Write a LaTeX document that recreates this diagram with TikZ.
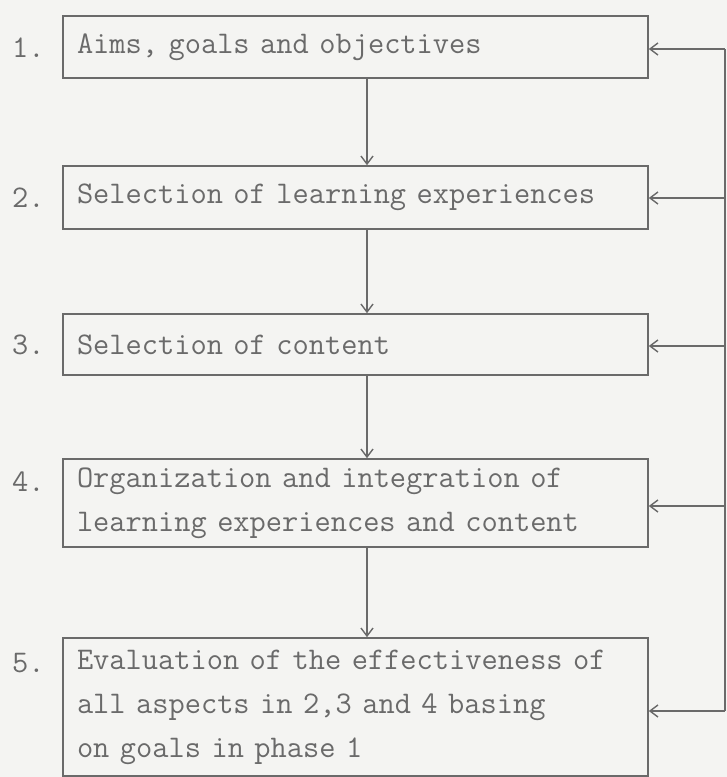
\documentclass[tikz,border=0pt]{standalone}
\usepackage{tikz}
\usetikzlibrary{arrows.meta}
\usetikzlibrary{calc}
\tikzset{>={Straight Barb[length=8pt,width=12pt]}}
\definecolor{ink}{HTML}{6A6A6A}
\definecolor{paper}{HTML}{F4F4F2}

\begin{document}
\begin{tikzpicture}[x=1pt,y=1pt]
            \tikzset{phase box/.style={draw=ink, line width=1.6pt, rectangle, text=ink, align=left, text width=557pt, inner xsep=14pt, inner ysep=0pt, font={\fontsize{31.5}{44}\selectfont\ttfamily}}};
            \tikzset{phase number/.style={text=ink, anchor=west, inner sep=0pt, font={\fontsize{31.5}{44}\selectfont\ttfamily}}};
            \tikzset{flow/.style={->, ink, line width=1.4pt}};
            % Paper
            \fill[paper] (0,0) rectangle (727,-777);
            \useasboundingbox (0,0) rectangle (727,-777);
            % Phases
            \node[phase box, minimum height=62pt] (aims) at (355.5,-47) {Aims, goals and objectives};
            \node[phase box, minimum height=63pt] (experiences) at (355.5,-197.5) {Selection of learning experiences};
            \node[phase box, minimum height=61pt] (content) at (355.5,-344.5) {Selection of content};
            \node[phase box, minimum height=88pt] (organization) at (355.5,-503) {Organization and integration of\\learning experiences and content};
            \node[phase box, minimum height=138pt] (evaluation) at (355.5,-707) {Evaluation of the effectiveness of\\all aspects in 2,3 and 4 basing\\on goals in phase 1};
            % Phase numbers
            \node[phase number] (n1) at (12,-48) {1.};
            \node[phase number] (n2) at (12,-198) {2.};
            \node[phase number] (n3) at (12,-345) {3.};
            \node[phase number] (n4) at (12,-482) {4.};
            \node[phase number] (n5) at (12,-663) {5.};
            % Sequence
            \coordinate (spine) at (367,0);
            \draw[flow] (aims.south -| spine) -- (experiences.north -| spine);
            \draw[flow] (experiences.south -| spine) -- (content.north -| spine);
            \draw[flow] (content.south -| spine) -- (organization.north -| spine);
            \draw[flow] (organization.south -| spine) -- (evaluation.north -| spine);
            % Feedback
            \coordinate (fb1) at (725,-49);
            \coordinate (fb2) at (725,-198);
            \coordinate (fb3) at (725,-346);
            \coordinate (fb4) at (725,-506);
            \coordinate (fb5) at (725,-711);
            \draw[ink, line width=1.4pt] (fb1) -- (fb5);
            \draw[flow] (fb1) -- (fb1 -| aims.east);
            \draw[flow] (fb2) -- (fb2 -| experiences.east);
            \draw[flow] (fb3) -- (fb3 -| content.east);
            \draw[flow] (fb4) -- (fb4 -| organization.east);
            \draw[flow] (fb5) -- (fb5 -| evaluation.east);
\end{tikzpicture}
\end{document}
